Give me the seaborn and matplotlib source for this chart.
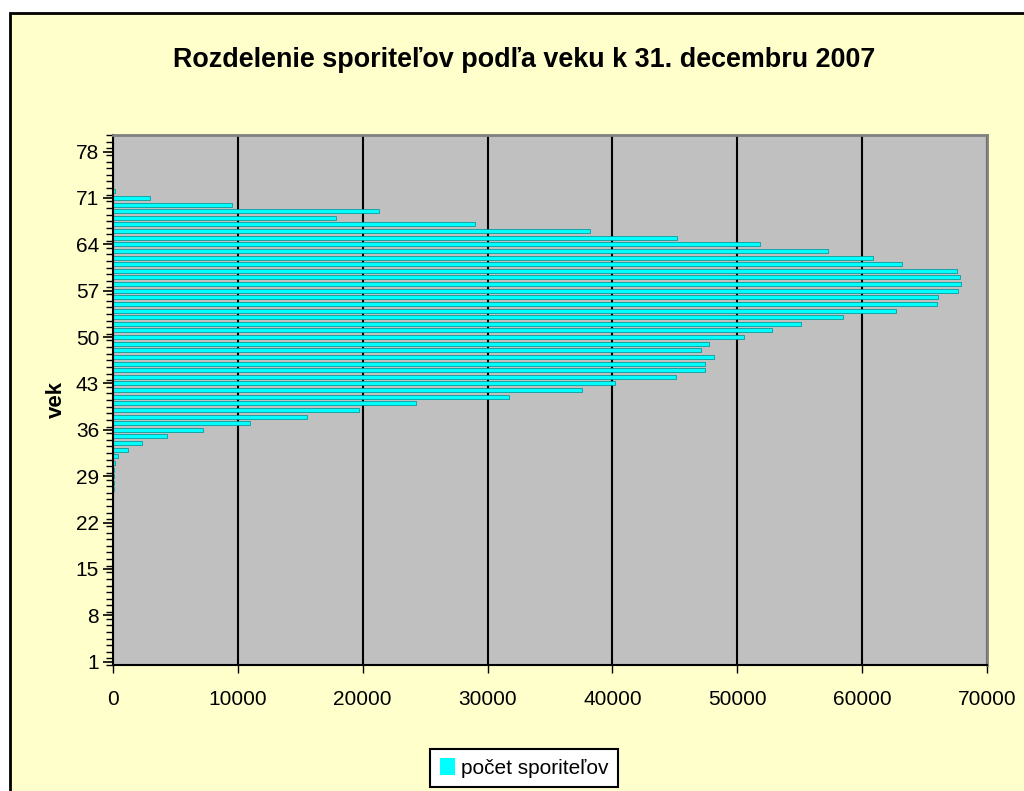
import numpy as np
import pandas as pd
import matplotlib
matplotlib.use('Agg')
import matplotlib.pyplot as plt
from matplotlib.patches import Rectangle, Patch
import seaborn as sns

# ages 1..80 and number of savers
ages = list(range(1, 81))
counts_by_age = {
    21: 10, 22: 20, 23: 25, 24: 30, 25: 35, 26: 40, 27: 50, 28: 60,
    29: 80, 30: 100, 31: 200, 32: 400, 33: 1200, 34: 2300, 35: 4300,
    36: 7200, 37: 11000, 38: 15500, 39: 19700, 40: 24300, 41: 31700,
    42: 37600, 43: 40200, 44: 45100, 45: 47400, 46: 47400, 47: 48100,
    48: 47100, 49: 47700, 50: 50500, 51: 52800, 52: 55100, 53: 58500,
    54: 62700, 55: 66000, 56: 66100, 57: 67700, 58: 67900, 59: 67800,
    60: 67600, 61: 63200, 62: 60900, 63: 57300, 64: 51800, 65: 45200,
    66: 38200, 67: 29000, 68: 17900, 69: 21300, 70: 9500, 71: 3000,
    72: 150,
}
counts = [counts_by_age.get(a, 0) for a in ages]
x_ticks = [0, 10000, 20000, 30000, 40000, 50000, 60000, 70000]
label_ages = list(range(1, 81, 7))

title = 'Rozdelenie sporiteľov podľa veku k 31. decembru 2007'
legend_label = 'počet sporiteľov'

df = pd.DataFrame({'vek': [str(a) for a in ages], 'pocet': counts})

sns.set_style('white')
plt.rcParams['font.family'] = ['Liberation Sans', 'DejaVu Sans']
plt.rcParams['text.color'] = 'black'
plt.rcParams['axes.labelcolor'] = 'black'
plt.rcParams['xtick.color'] = 'black'
plt.rcParams['ytick.color'] = 'black'

fig = plt.figure(figsize=(10.24, 7.91), dpi=100, facecolor='white')
# chart area background with black border (only top/left visible)
fig.patches.append(Rectangle((10 / 1024, -1.0), 3.0, 2 - 13 / 791,
                             transform=fig.transFigure, facecolor='#FFFFCC',
                             edgecolor='black', linewidth=2, zorder=-10))

ax = fig.add_axes([113 / 1024, 1 - 665 / 791, (987 - 113) / 1024, (665 - 135) / 791])
ax.set_facecolor('#C0C0C0')

order = [str(a) for a in ages[::-1]]
sns.barplot(data=df, x='pocet', y='vek', orient='h', order=order,
            color='#00FFFF', saturation=1, edgecolor='#008B8B', linewidth=0.5,
            width=0.6, ax=ax)

ax.set_xlim(0, 70000)
ax.set_ylim(len(ages) - 0.5, -0.5)
ax.set_xticks(x_ticks)
ax.set_xticklabels([str(v) for v in x_ticks], fontsize=15)
ax.set_yticks([len(ages) - a for a in label_ages])
ax.set_yticklabels([str(a) for a in label_ages], fontsize=15)
ax.set_yticks(np.arange(len(ages) + 1) - 0.5, minor=True)

ax.xaxis.grid(True, color='black', linewidth=1.5)
ax.set_axisbelow(True)
ax.tick_params(axis='y', which='major', direction='out', length=7, width=1.2, pad=3, left=True)
ax.tick_params(axis='y', which='minor', direction='out', length=5, width=1.0, left=True)
ax.tick_params(axis='x', which='major', direction='out', length=6, width=1.0, pad=12, bottom=True)

for side in ['top', 'right']:
    ax.spines[side].set_color('#808080')
    ax.spines[side].set_linewidth(2)
for side in ['left', 'bottom']:
    ax.spines[side].set_color('black')
    ax.spines[side].set_linewidth(1.5)

ax.set_xlabel('')
ax.set_ylabel('vek', fontsize=16, fontweight='bold', labelpad=6)

fig.text(524 / 1024, 1 - 60 / 791, title, ha='center', va='center',
         fontsize=19.4, fontweight='bold')

handles = [Patch(facecolor='#00FFFF', edgecolor='none', label=legend_label)]
leg = fig.legend(handles=handles, loc='center', bbox_to_anchor=(524 / 1024, 1 - 768 / 791),
                 fontsize=15, frameon=True, fancybox=False, handlelength=0.75,
                 handleheight=0.9, handletextpad=0.25, borderpad=0.45)
leg.get_frame().set_edgecolor('black')
leg.get_frame().set_linewidth(1.5)
leg.get_frame().set_facecolor('white')
leg.get_frame().set_alpha(1)

fig.savefig('out.png', dpi=100, facecolor=fig.get_facecolor())
